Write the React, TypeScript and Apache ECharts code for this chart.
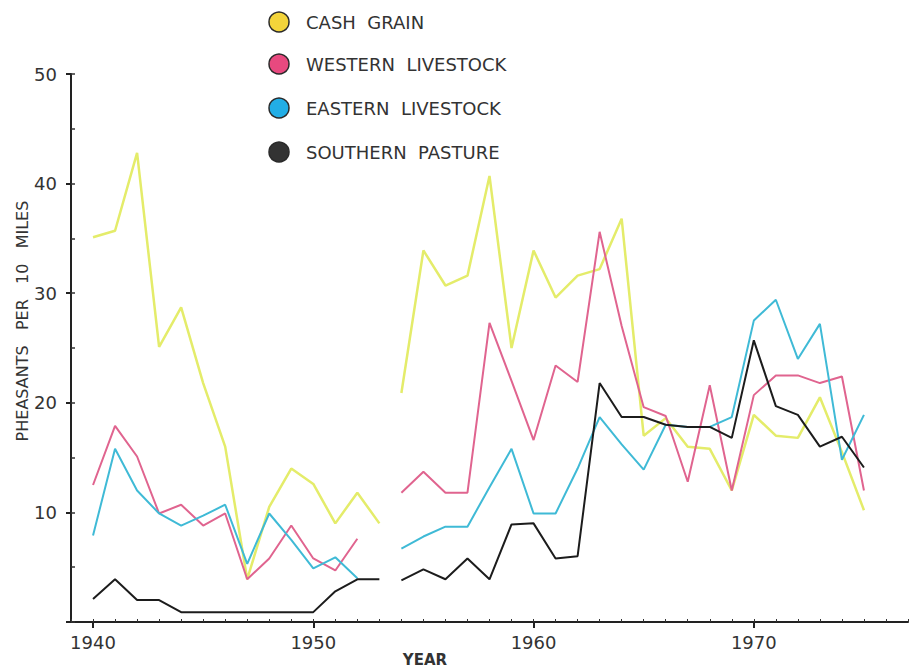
import React, { useEffect, useRef } from 'react';
import * as echarts from 'echarts';

const leftYears = [1940, 1941, 1942, 1943, 1944, 1945, 1946, 1947, 1948, 1949, 1950, 1951, 1952, 1953];
const rightYears = [1954, 1955, 1956, 1957, 1958, 1959, 1960, 1961, 1962, 1963, 1964, 1965, 1966, 1967, 1968, 1969, 1970, 1971, 1972, 1973, 1974, 1975];

const cashGrainLeft = [35.1, 35.7, 42.8, 25.1, 28.7, 21.8, 16.0, 3.9, 10.5, 14.0, 12.6, 9.0, 11.8, 9.0];
const westernLeft = [12.5, 17.9, 15.1, 9.9, 10.7, 8.8, 9.9, 3.9, 5.8, 8.8, 5.8, 4.7, 7.6];
const easternLeft = [7.9, 15.8, 12.0, 9.9, 8.8, 9.7, 10.7, 5.3, 9.9, 7.5, 4.9, 5.9, 4.0];
const southernLeft = [2.1, 3.9, 2.0, 2.0, 0.9, 0.9, 0.9, 0.9, 0.9, 0.9, 0.9, 2.8, 3.9, 3.9];

const cashGrainRight = [20.9, 33.9, 30.7, 31.6, 40.7, 25.0, 33.9, 29.6, 31.6, 32.2, 36.8, 17.0, 18.6, 16.0, 15.8, 12.0, 18.9, 17.0, 16.8, 20.5, 15.5, 10.2];
const westernRight = [11.8, 13.7, 11.8, 11.8, 27.3, 22.0, 16.6, 23.4, 21.9, 35.6, 27.0, 19.6, 18.8, 12.8, 21.6, 12.0, 20.7, 22.5, 22.5, 21.8, 22.4, 12.0];
const easternRight = [6.7, 7.8, 8.7, 8.7, 12.3, 15.8, 9.9, 9.9, 14.0, 18.7, 16.2, 13.9, 18.0, 17.8, 17.8, 18.7, 27.5, 29.4, 24.0, 27.2, 14.8, 18.9];
const southernRight = [3.8, 4.8, 3.9, 5.8, 3.9, 8.9, 9.0, 5.8, 6.0, 21.8, 18.7, 18.7, 18.0, 17.8, 17.8, 16.8, 25.7, 19.7, 18.9, 16.0, 16.9, 14.1];

const decadeTicks = [1940, 1950, 1960, 1970];

const legendNames = ['CASH  GRAIN', 'WESTERN  LIVESTOCK', 'EASTERN  LIVESTOCK', 'SOUTHERN  PASTURE'];
const legendColors = ['#f3d43a', '#e8497f', '#22aee6', '#333333'];
const lineColors = ['#e4ec6a', '#e0648f', '#3fbad6', '#1c1c1c'];
const yAxisTitle = 'PHEASANTS   PER   10   MILES';
const xAxisTitle = 'YEAR';

const FONT = 'DejaVu Sans';

function pairs(years: number[], vals: number[]) {
  return vals.map((v, i) => [years[i], v]);
}

export default function App() {
  const ref = useRef<HTMLDivElement>(null);
  useEffect(() => {
    const chart = echarts.init(ref.current!, null, { renderer: 'svg' });
    const groups = [
      [cashGrainLeft, cashGrainRight],
      [westernLeft, westernRight],
      [easternLeft, easternRight],
      [southernLeft, southernRight],
    ];
    const series: any[] = [];
    groups.forEach((g, i) => {
      [0, 1].forEach((k) => {
        series.push({
          type: 'line',
          name: legendNames[i],
          xAxisIndex: 0,
          yAxisIndex: 0,
          data: pairs(k === 0 ? leftYears : rightYears, g[k]),
          showSymbol: false,
          symbol: 'none',
          lineStyle: { color: lineColors[i], width: i === 0 ? 2.5 : 2 },
          itemStyle: { color: lineColors[i] },
          z: i === 0 ? 2 : 3 + i,
          silent: true,
        });
      });
    });
    const legendY = [22, 64, 108, 152];
    const graphics: any[] = [];
    legendNames.forEach((n, i) => {
      graphics.push({
        type: 'circle',
        shape: { cx: 279, cy: legendY[i], r: 10 },
        style: { fill: legendColors[i], stroke: '#2a2a2a', lineWidth: 1.5 },
      });
      graphics.push({
        type: 'text',
        x: 306,
        y: legendY[i],
        style: { text: n, fill: '#333', font: `18px "${FONT}"`, verticalAlign: 'middle', align: 'left' },
      });
    });
    graphics.push({
      type: 'text',
      x: 425,
      y: 660,
      style: { text: xAxisTitle, fill: '#333', font: `bold 15px "${FONT}"`, verticalAlign: 'middle', align: 'center' },
    });
    graphics.push({
      type: 'text',
      x: 22,
      y: 321,
      rotation: Math.PI / 2,
      style: { text: yAxisTitle, fill: '#333', font: `16px "${FONT}"`, verticalAlign: 'middle', align: 'center' },
    });

    chart.setOption({
      animation: false,
      backgroundColor: '#ffffff',
      grid: { left: 71, right: 1, top: 74, bottom: 49 },
      xAxis: [
        {
          type: 'value',
          min: 1939,
          max: 1977,
          interval: 1,
          position: 'bottom',
          axisLine: { show: true, lineStyle: { color: '#222', width: 2 } },
          axisTick: { show: true, inside: true, length: 3, lineStyle: { color: '#333', width: 1 } },
          axisLabel: { show: false },
          splitLine: { show: false },
        },
        {
          type: 'value',
          min: 1939,
          max: 1977,
          position: 'bottom',
          axisLine: { show: false },
          axisTick: { show: true, inside: false, length: 6, customValues: decadeTicks, lineStyle: { color: '#222', width: 2 } },
          axisLabel: {
            show: true,
            customValues: decadeTicks,
            margin: 11,
            color: '#333',
            fontSize: 18,
            fontFamily: FONT,
            formatter: (v: number) => String(v),
          },
          splitLine: { show: false },
        },
      ],
      yAxis: [
        {
          type: 'value',
          min: 0,
          max: 50,
          interval: 10,
          position: 'left',
          axisLine: { show: true, lineStyle: { color: '#222', width: 2 } },
          axisTick: { show: true, inside: false, length: 5, lineStyle: { color: '#222', width: 2 } },
          axisLabel: {
            show: true,
            margin: 14,
            color: '#333',
            fontSize: 18,
            fontFamily: FONT,
            formatter: (v: number) => (v === 0 ? '' : String(v)),
          },
          splitLine: { show: false },
        },
        {
          type: 'value',
          min: 0,
          max: 50,
          interval: 5,
          position: 'left',
          axisLine: { show: false },
          axisTick: { show: true, inside: true, length: 4, lineStyle: { color: '#333', width: 1.5 } },
          axisLabel: { show: false },
          splitLine: { show: false },
        },
      ],
      series,
      graphic: graphics,
    });
    return () => chart.dispose();
  }, []);
  return (
    <div
      ref={ref}
      style={{ position: 'fixed', left: 0, top: 0, width: 909, height: 671, background: '#fff' }}
    />
  );
}
